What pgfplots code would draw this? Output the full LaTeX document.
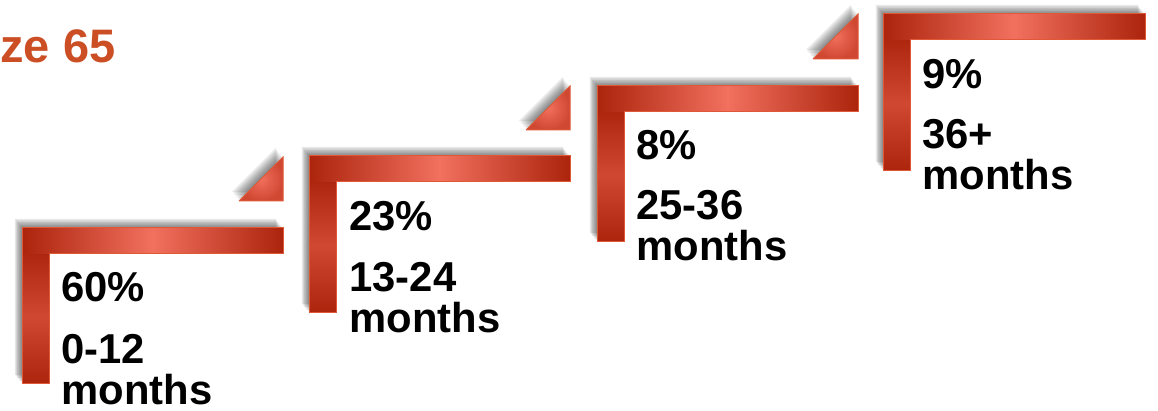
\documentclass[border=0pt]{standalone}
\usepackage{pgfplots}
\pgfplotsset{compat=1.18}
\usepackage{fontspec}
\setmainfont{Liberation Sans}
\definecolor{dk}{RGB}{172,36,12}
\definecolor{lt}{RGB}{241,112,94}
\definecolor{md}{RGB}{208,72,50}
\definecolor{edge}{RGB}{224,88,54}
\definecolor{titlecol}{RGB}{204,78,36}
\begin{document}
\begin{tikzpicture}
\useasboundingbox (0,0) rectangle (579pt,205.5pt);
\clip (0,0) rectangle (579pt,205.5pt);
\fill[white] (0,0) rectangle (579pt,205.5pt);
\begin{axis}[at={(0,0)}, anchor=south west, width=579pt, height=205.5pt,
  scale only axis, xmin=0, xmax=1158, ymin=0, ymax=411, y dir=reverse,
  hide axis, clip=false]
% shadows
\pgfplotsinvokeforeach{1,2,3,4,5,6}{
 \addplot[draw=none, fill=black, fill opacity=0.09, xshift={-0.6pt*#1}, yshift={0.75pt*#1}] coordinates {(22,228) (283,228) (283,254) (49,254) (49,384) (22,384) (22,228)};
 \addplot[draw=none, fill=black, fill opacity=0.09, xshift={-0.6pt*#1}, yshift={0.75pt*#1}] coordinates {(309,156) (570,156) (570,182) (336,182) (336,313) (309,313) (309,156)};
 \addplot[draw=none, fill=black, fill opacity=0.09, xshift={-0.6pt*#1}, yshift={0.75pt*#1}] coordinates {(597,86) (858,86) (858,112) (624,112) (624,242) (597,242) (597,86)};
 \addplot[draw=none, fill=black, fill opacity=0.09, xshift={-0.6pt*#1}, yshift={0.75pt*#1}] coordinates {(883,14) (1145,14) (1145,40) (910,40) (910,171) (883,171) (883,14)};
 \addplot[draw=none, fill=black, fill opacity=0.09, xshift={-0.6pt*#1}, yshift={0.75pt*#1}] coordinates {(239,201) (283,201) (283,157) (239,201)};
 \addplot[draw=none, fill=black, fill opacity=0.09, xshift={-0.6pt*#1}, yshift={0.75pt*#1}] coordinates {(526,130) (570,130) (570,86) (526,130)};
 \addplot[draw=none, fill=black, fill opacity=0.09, xshift={-0.6pt*#1}, yshift={0.75pt*#1}] coordinates {(813,59) (858,59) (858,14) (813,59)};
}
% white under-fill to hide shadow inside shapes
\addplot[draw=none, fill=white] coordinates {(22,228) (283,228) (283,254) (49,254) (49,384) (22,384) (22,228)};
\addplot[draw=none, fill=white] coordinates {(309,156) (570,156) (570,182) (336,182) (336,313) (309,313) (309,156)};
\addplot[draw=none, fill=white] coordinates {(597,86) (858,86) (858,112) (624,112) (624,242) (597,242) (597,86)};
\addplot[draw=none, fill=white] coordinates {(883,14) (1145,14) (1145,40) (910,40) (910,171) (883,171) (883,14)};
% vertical bars
\addplot[draw=none, top color=dk, bottom color=dk, middle color=md] coordinates {(22,250) (49,250) (49,384) (22,384) (22,250)};
\addplot[draw=none, top color=dk, bottom color=dk, middle color=md] coordinates {(309,178) (336,178) (336,313) (309,313) (309,178)};
\addplot[draw=none, top color=dk, bottom color=dk, middle color=md] coordinates {(597,108) (624,108) (624,242) (597,242) (597,108)};
\addplot[draw=none, top color=dk, bottom color=dk, middle color=md] coordinates {(883,36) (910,36) (910,171) (883,171) (883,36)};
% horizontal bars
\addplot[draw=none, left color=dk, right color=dk, middle color=lt] coordinates {(22,228) (283,228) (283,254) (22,254) (22,228)};
\addplot[draw=none, left color=dk, right color=dk, middle color=lt] coordinates {(309,156) (570,156) (570,182) (309,182) (309,156)};
\addplot[draw=none, left color=dk, right color=dk, middle color=lt] coordinates {(597,86) (858,86) (858,112) (597,112) (597,86)};
\addplot[draw=none, left color=dk, right color=dk, middle color=lt] coordinates {(883,14) (1145,14) (1145,40) (883,40) (883,14)};
% triangles
\addplot[draw=none, shading=radial, inner color=lt, outer color=md] coordinates {(239,201) (283,201) (283,157) (239,201)};
\addplot[draw=none, shading=radial, inner color=lt, outer color=md] coordinates {(526,130) (570,130) (570,86) (526,130)};
\addplot[draw=none, shading=radial, inner color=lt, outer color=md] coordinates {(813,59) (858,59) (858,14) (813,59)};
% outlines
\addplot[draw=edge, line width=0.5pt, line join=miter] coordinates {(22,228) (283,228) (283,254) (49,254) (49,384) (22,384) (22,228)};
\addplot[draw=edge, line width=0.5pt, line join=miter] coordinates {(309,156) (570,156) (570,182) (336,182) (336,313) (309,313) (309,156)};
\addplot[draw=edge, line width=0.5pt, line join=miter] coordinates {(597,86) (858,86) (858,112) (624,112) (624,242) (597,242) (597,86)};
\addplot[draw=edge, line width=0.5pt, line join=miter] coordinates {(883,14) (1145,14) (1145,40) (910,40) (910,171) (883,171) (883,14)};
\addplot[draw=edge, line width=0.5pt, line join=miter] coordinates {(239,201) (283,201) (283,157) (239,201)};
\addplot[draw=edge, line width=0.5pt, line join=miter] coordinates {(526,130) (570,130) (570,86) (526,130)};
\addplot[draw=edge, line width=0.5pt, line join=miter] coordinates {(813,59) (858,59) (858,14) (813,59)};
% texts
\node[anchor=base west, inner sep=0, text=titlecol, font=\fontsize{23.5}{24}\selectfont\bfseries] at (axis cs:0,63) {ze 65};
\tikzset{lbl/.style={anchor=base west, inner sep=0, text=black, font=\fontsize{20.9}{21}\selectfont\bfseries}}
\node[lbl] at (axis cs:61,302) {60\%};
\node[lbl] at (axis cs:61,364) {0-12};
\node[lbl] at (axis cs:61,405) {months};
\node[lbl] at (axis cs:349,231) {23\%};
\node[lbl] at (axis cs:349,292) {13-24};
\node[lbl] at (axis cs:349,333) {months};
\node[lbl] at (axis cs:636,160) {8\%};
\node[lbl] at (axis cs:636,220) {25-36};
\node[lbl] at (axis cs:636,261) {months};
\node[lbl] at (axis cs:922,89) {9\%};
\node[lbl] at (axis cs:922,149) {36+};
\node[lbl] at (axis cs:922,190) {months};
\end{axis}
\end{tikzpicture}
\end{document}
